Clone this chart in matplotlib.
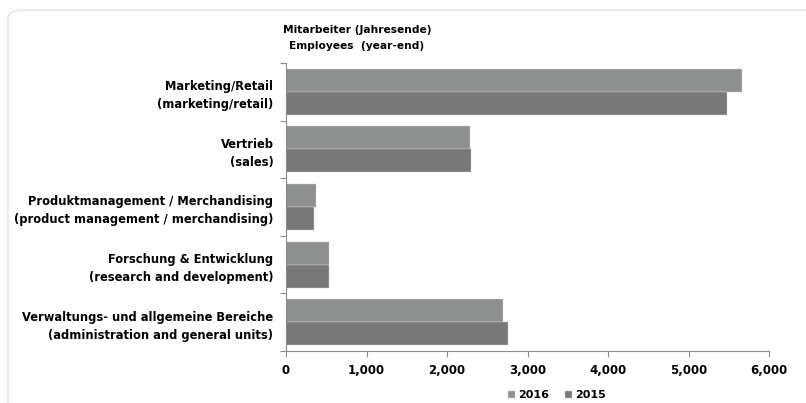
import matplotlib.pyplot as plt
from matplotlib.patches import FancyBboxPatch
from matplotlib.ticker import FuncFormatter
import numpy as np

# --- dati ---
categorie = [
    'Marketing/Retail\n(marketing/retail)',
    'Vertrieb\n(sales)',
    'Produktmanagement / Merchandising\n(product management / merchandising)',
    'Forschung & Entwicklung\n(research and development)',
    'Verwaltungs- und allgemeine Bereiche\n(administration and general units)',
]
valori_2016 = [5660, 2290, 370, 540, 2700]
valori_2015 = [5480, 2300, 350, 535, 2755]
anni = ['2016', '2015']

col_2016 = '#8e8f8f'
col_2015 = '#787878'
grigio = '#8a8a8a'

plt.rcParams['font.family'] = 'DejaVu Sans'

fig = plt.figure(figsize=(8.06, 4.03), dpi=100)
fig.patch.set_facecolor('white')

# cornice arrotondata
cornice = FancyBboxPatch((8 / 806, -0.1), 1.05, 1.1 - 10 / 403,
                         boxstyle='round,pad=0,rounding_size=0.02',
                         transform=fig.transFigure, facecolor='white',
                         edgecolor='#e2e2e2', linewidth=1.0, zorder=-1)
fig.patches.append(cornice)

ax = fig.add_axes([286 / 806, 1 - 351 / 403, (769 - 286) / 806, (351 - 63) / 403])
ax.set_facecolor('none')

y = np.arange(len(categorie))
h = 0.4
ax.barh(y - h / 2, valori_2016, height=h, color=col_2016, edgecolor='#cfcfcf',
        linewidth=0.3, label=anni[0])
ax.barh(y + h / 2, valori_2015, height=h, color=col_2015, edgecolor='#cfcfcf',
        linewidth=0.3, label=anni[1])

ax.set_ylim(len(categorie) - 0.5, -0.5)
ax.set_xlim(0, 6000)
ax.set_xticks(range(0, 6001, 1000))
ax.xaxis.set_major_formatter(FuncFormatter(lambda v, p: f'{int(v):,}'))

ax.set_yticks(y)
ax.set_yticklabels(categorie, fontweight='bold', fontsize=8.3, ha='right',
                   multialignment='right', linespacing=1.5)
ax.set_yticks(np.arange(-0.5, len(categorie), 1), minor=True)
ax.tick_params(axis='y', which='major', length=0, pad=9)
ax.tick_params(axis='y', which='minor', length=4, color=grigio, width=0.8)
ax.tick_params(axis='x', length=4, color=grigio, width=0.8, pad=5)
for lab in ax.get_xticklabels():
    lab.set_fontweight('bold')
    lab.set_fontsize(8.5)

for s in ['top', 'right']:
    ax.spines[s].set_visible(False)
for s in ['left', 'bottom']:
    ax.spines[s].set_color(grigio)
    ax.spines[s].set_linewidth(0.8)

fig.text(357 / 806, 1 - 30 / 403, 'Mitarbeiter (Jahresende)', ha='center',
         va='center', fontsize=7.7, fontweight='bold')
fig.text(357 / 806, 1 - 46 / 403, 'Employees  (year-end)', ha='center',
         va='center', fontsize=7.7, fontweight='bold')

fig.legend(loc='center', bbox_to_anchor=(557 / 806, 1 - 395 / 403), ncol=2,
           frameon=False, handlelength=0.6, handleheight=0.6, handletextpad=0.3,
           columnspacing=1.4, prop={'weight': 'bold', 'size': 8})

fig.savefig('out.png', dpi=100)
